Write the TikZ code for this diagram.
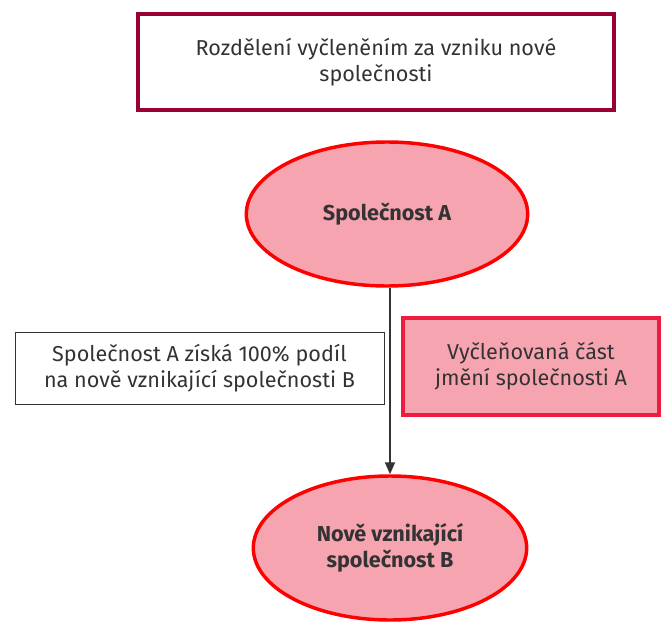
\documentclass[tikz,border=0pt]{standalone}
\usepackage{fontspec}
\setmainfont{Fira Sans}
\usetikzlibrary{shapes.geometric,arrows.meta}
\definecolor{txt}{HTML}{333333}
\definecolor{titleframe}{HTML}{990033}
\definecolor{pinkfill}{HTML}{F7A4B1}
\definecolor{redline}{HTML}{FF0000}
\definecolor{boxred}{HTML}{EE1C3E}
\begin{document}
\begin{tikzpicture}[x=0.75pt,y=-0.75pt,
  every node/.style={text=txt,font=\fontsize{16.2}{19.5}\selectfont,align=center,inner sep=0pt},
  titlebox/.style={draw=titleframe,line width=2.4pt,minimum width=357pt,minimum height=72pt},
  oval/.style={ellipse,draw=redline,fill=pinkfill,line width=2.6pt,font=\fontsize{16.2}{19.5}\selectfont\bfseries},
  notebox/.style={draw=txt,line width=0.75pt,minimum width=276.75pt,minimum height=54pt},
  partbox/.style={draw=boxred,fill=pinkfill,line width=2.6pt,minimum width=192pt,minimum height=72.75pt},
  conn/.style={draw=txt,line width=1.3pt,-{Triangle[length=9pt,width=7.5pt]}}
]
\useasboundingbox (0,0) rectangle (671,635);
\node[titlebox] (title) at (376,62) {Rozdělení vyčleněním za vzniku nové\\ společnosti};
\node[oval,minimum width=211pt,minimum height=108pt] (A) at (387,214) {Společnost A};
\node[oval,minimum width=205pt,minimum height=108pt] (B) at (390,548) {Nově vznikající\\ společnost B};
\node[notebox] (note) at (199.5,368) {Společnost A získá 100\% podíl\\ na nově vznikající společnosti B};
\node[partbox] (part) at (531,366.5) {Vyčleňovaná část\\ jmění společnosti A};
\draw[conn] (A.south -| B.north) -- (B.north);
\end{tikzpicture}
\end{document}
